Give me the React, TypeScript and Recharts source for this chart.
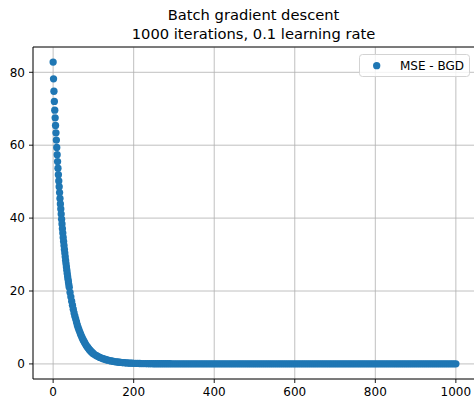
import React from 'react';
import { ScatterChart, Scatter, XAxis, YAxis, CartesianGrid, Legend, ReferenceLine } from 'recharts';

// MSE, iterations 0..40 (one per iteration)
const mseEarly = [
  82.8, 78.2, 74.8, 72.0, 69.6, 67.5, 65.4, 63.4, 61.4, 59.4,
  57.4, 55.5, 53.7, 51.9, 50.2, 48.6, 47.0, 45.4, 43.9, 42.5,
  41.1, 39.7, 38.4, 37.1, 35.9, 34.7, 33.6, 32.5, 31.4, 30.4,
  29.4, 28.4, 27.5, 26.6, 25.7, 24.8, 24.0, 23.2, 22.5, 21.7, 21.0,
];
// iterations 42..100, every 2nd
const mseMid = [
  19.6, 18.4, 17.2, 16.1, 15.0, 14.0, 13.1, 12.3, 11.5, 10.7,
  10.0, 9.4, 8.8, 8.2, 7.7, 7.2, 6.7, 6.3, 5.9, 5.5,
  5.1, 4.8, 4.5, 4.2, 3.9, 3.7, 3.4, 3.2, 3.0, 2.8,
];
// iterations 104..200, every 4th
const mseLate = [
  2.5, 2.24, 2.0, 1.79, 1.6, 1.43, 1.28, 1.14, 1.02, 0.91,
  0.81, 0.73, 0.65, 0.58, 0.52, 0.46, 0.41, 0.37, 0.33, 0.3,
  0.26, 0.24, 0.21, 0.19, 0.17,
];
// iterations 205..1000, every 5th
const mseTail = [
  0.15, 0.13, 0.11, 0.1, 0.09, 0.08, 0.07, 0.06, 0.06, 0.05, 0.05, 0.05, 0.04, 0.04, 0.04, 0.04, 0.04, 0.04, 0.03, 0.03,
  0.03, 0.03, 0.03, 0.03, 0.03, 0.03, 0.03, 0.03, 0.03, 0.03, 0.03, 0.03, 0.03, 0.03, 0.03, 0.03, 0.03, 0.03, 0.03, 0.03,
  0.03, 0.03, 0.03, 0.03, 0.03, 0.03, 0.03, 0.03, 0.03, 0.03, 0.03, 0.03, 0.03, 0.03, 0.03, 0.03, 0.03, 0.03, 0.03, 0.03,
  0.03, 0.03, 0.03, 0.03, 0.03, 0.03, 0.03, 0.03, 0.03, 0.03, 0.03, 0.03, 0.03, 0.03, 0.03, 0.03, 0.03, 0.03, 0.03, 0.03,
  0.03, 0.03, 0.03, 0.03, 0.03, 0.03, 0.03, 0.03, 0.03, 0.03, 0.03, 0.03, 0.03, 0.03, 0.03, 0.03, 0.03, 0.03, 0.03, 0.03,
  0.03, 0.03, 0.03, 0.03, 0.03, 0.03, 0.03, 0.03, 0.03, 0.03, 0.03, 0.03, 0.03, 0.03, 0.03, 0.03, 0.03, 0.03, 0.03, 0.03,
  0.03, 0.03, 0.03, 0.03, 0.03, 0.03, 0.03, 0.03, 0.03, 0.03, 0.03, 0.03, 0.03, 0.03, 0.03, 0.03, 0.03, 0.03, 0.03, 0.03,
  0.03, 0.03, 0.03, 0.03, 0.03, 0.03, 0.03, 0.03, 0.03, 0.03, 0.03, 0.03, 0.03, 0.03, 0.03, 0.03, 0.03, 0.03, 0.03, 0.03,
];

const xTicks = [0, 200, 400, 600, 800, 1000];
const yTicks = [0, 20, 40, 60, 80];
const seriesName = 'MSE - BGD';
const titleLines = ['Batch gradient descent', '1000 iterations, 0.1 learning rate'];

const data = [
  ...mseEarly.map((v, i) => ({ iter: i, mse: v })),
  ...mseMid.map((v, i) => ({ iter: 42 + 2 * i, mse: v })),
  ...mseLate.map((v, i) => ({ iter: 104 + 4 * i, mse: v })),
  ...mseTail.map((v, i) => ({ iter: 205 + 5 * i, mse: v })),
];

const BLUE = '#1f77b4';
const FONT = '"DejaVu Sans", sans-serif';
const Y_MAX = 86.94;

const Dot = (p: any) => <circle cx={p.cx} cy={p.cy} r={3.65} fill={BLUE} />;

const LegendBox = () => (
  <svg width={112} height={24} style={{ display: 'block' }}>
    <rect x={0.5} y={0.5} width={110} height={22} rx={3} ry={3} fill="rgba(255,255,255,0.8)" stroke="#d3d3d3" strokeWidth={1} />
    <circle cx={17.7} cy={11.7} r={3.65} fill={BLUE} />
    <text x={41} y={16} fontFamily={FONT} fontSize={12} fill="#000">{seriesName}</text>
  </svg>
);

export default function App() {
  return (
    <div style={{ position: 'fixed', left: 0, top: 0, width: 474, height: 398, overflow: 'hidden', background: '#fff' }}>
      <svg width={474} height={46} style={{ position: 'absolute', left: 0, top: 0 }}>
        <text x={253.5} y={20} textAnchor="middle" fontFamily={FONT} fontSize={14.7} fill="#000">{titleLines[0]}</text>
        <text x={253.5} y={39} textAnchor="middle" fontFamily={FONT} fontSize={14.7} fill="#000">{titleLines[1]}</text>
      </svg>
      <div style={{ position: 'absolute', left: 0, top: 0 }}>
        <ScatterChart width={480} height={398} margin={{ top: 47, right: 4, bottom: 0, left: 0 }}>
          <CartesianGrid stroke="#b0b0b0" strokeWidth={0.8} />
          <XAxis
            type="number"
            dataKey="iter"
            domain={[-50, 1050]}
            ticks={xTicks}
            height={19}
            tickSize={4}
            tickMargin={4}
            allowDataOverflow
            stroke="#000"
            strokeWidth={0.9}
            tick={{ fill: '#000', fontSize: 12, fontFamily: FONT }}
          />
          <YAxis
            type="number"
            dataKey="mse"
            domain={[-4.14, Y_MAX]}
            ticks={yTicks}
            width={33}
            tickSize={4}
            tickMargin={4}
            allowDataOverflow
            stroke="#000"
            strokeWidth={0.9}
            tick={{ fill: '#000', fontSize: 12, fontFamily: FONT }}
          />
          <ReferenceLine y={Y_MAX} stroke="#000" strokeWidth={0.9} />
          <Legend
            layout="horizontal"
            verticalAlign="middle"
            align="center"
            content={() => <LegendBox />}
            wrapperStyle={{ position: 'absolute', left: 359, top: 54, width: 112, height: 24 }}
          />
          <Scatter name={seriesName} data={data} fill={BLUE} shape={Dot} isAnimationActive={false} />
        </ScatterChart>
      </div>
    </div>
  );
}
